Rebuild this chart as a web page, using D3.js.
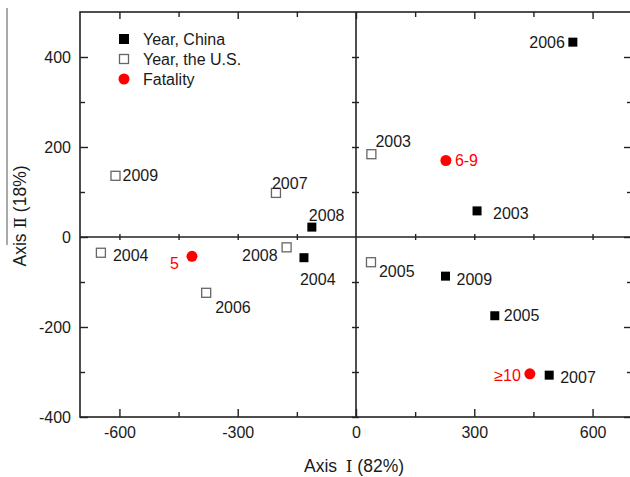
<!DOCTYPE html>
<html>
<head>
<meta charset="utf-8">
<script src="https://cdn.jsdelivr.net/npm/d3@7"></script>
<style>
body { margin: 0; background: #fff; }
text { font-family: "Liberation Sans", Arial, sans-serif; fill: #1a1a1a; }
</style>
</head>
<body>
<script>
var width = 630;
var height = 477;

// data
var chinaYears = ["2003", "2004", "2005", "2006", "2007", "2008", "2009"];
var chinaX = [307, -132, 352, 550, 490, -112, 227];
var chinaY = [58, -46, -175, 433, -307, 22, -87];

var usYears = ["2003", "2004", "2005", "2006", "2007", "2008", "2009"];
var usX = [39, -647, 38, -380, -203, -176, -610];
var usY = [184, -35, -56, -124, 98, -23, 136];

var fatalityLabels = ["5", "6-9", "\u226510"];
var fatalityX = [-416, 228, 441];
var fatalityY = [-43, 170, -304];

var xTicks = [-600, -300, 0, 300, 600];
var yTicks = [-400, -200, 0, 200, 400];

// label placement around each point (dx, dy, anchor)
var chinaPlace = {
    "2003": [16, 2, "start"], "2004": [-4, 22, "start"], "2005": [9, 0, "start"],
    "2006": [-8, 0, "end"], "2007": [11, 2, "start"], "2008": [-3, -12, "start"],
    "2009": [11, 3, "start"]
};
var usPlace = {
    "2003": [4, -13, "start"], "2004": [12, 3, "start"], "2005": [8, 9, "start"],
    "2006": [9, 15, "start"], "2007": [-4, -10, "start"], "2008": [-9, 8, "end"],
    "2009": [7, 0, "start"]
};
var fatalityPlace = [[-13, 7, "end"], [9, 0, "start"], [-9, 2, "end"]];

var x = d3.scaleLinear().domain([-700, 700]).range([80, 632]);
var y = d3.scaleLinear().domain([-400, 500]).range([417, 12]);

var svg = d3.select("body").append("svg")
    .attr("width", width)
    .attr("height", height);

var axisColor = "#222";
var plain = function (d) { return String(d); };   // hyphen minus like the original

// frame
svg.append("rect")
    .attr("x", x(-700)).attr("y", y(500))
    .attr("width", x(700) - x(-700)).attr("height", y(-400) - y(500))
    .attr("fill", "none").attr("stroke", axisColor).attr("stroke-width", 1.6);

// zero lines
svg.append("line")
    .attr("x1", x(-700)).attr("x2", x(700)).attr("y1", y(0)).attr("y2", y(0))
    .attr("stroke", axisColor).attr("stroke-width", 1.6);
svg.append("line")
    .attr("x1", x(0)).attr("x2", x(0)).attr("y1", y(500)).attr("y2", y(-400))
    .attr("stroke", axisColor).attr("stroke-width", 1.6);

function tickStyle(g) {
    g.select(".domain").remove();
    g.selectAll(".tick line").attr("stroke", axisColor).attr("stroke-width", 1.4);
    g.selectAll(".tick text").attr("font-size", 16).attr("fill", "#1a1a1a")
        .style("font-family", "'Liberation Sans', Arial, sans-serif");
}

var xMinor = d3.range(-600, 700, 150);
var yMinor = d3.range(-400, 500, 100);

// bottom axis: labels + inward ticks
svg.append("g").attr("transform", "translate(0," + y(-400) + ")")
    .call(d3.axisBottom(x).tickValues(xTicks).tickSize(0).tickPadding(10).tickFormat(plain))
    .call(tickStyle);
svg.append("g").attr("transform", "translate(0," + y(-400) + ")")
    .call(d3.axisTop(x).tickValues(xMinor).tickSize(6).tickFormat(""))
    .call(tickStyle)
    .selectAll(".tick line").attr("y2", function (d) { return xTicks.indexOf(d) >= 0 ? -8 : -5; });
// top axis ticks
svg.append("g").attr("transform", "translate(0," + y(500) + ")")
    .call(d3.axisBottom(x).tickValues(xMinor).tickFormat(""))
    .call(tickStyle)
    .selectAll(".tick line").attr("y2", function (d) { return xTicks.indexOf(d) >= 0 ? 7 : 5; });

// left axis
svg.append("g").attr("transform", "translate(" + x(-700) + ",0)")
    .call(d3.axisLeft(y).tickValues(yTicks).tickSize(0).tickPadding(9).tickFormat(plain))
    .call(tickStyle);
svg.append("g").attr("transform", "translate(" + x(-700) + ",0)")
    .call(d3.axisRight(y).tickValues(yMinor).tickFormat(""))
    .call(tickStyle)
    .selectAll(".tick line").attr("x2", function (d) { return yTicks.indexOf(d) >= 0 ? 8 : 5; });
// right axis ticks
svg.append("g").attr("transform", "translate(" + x(700) + ",0)")
    .call(d3.axisLeft(y).tickValues(yMinor).tickFormat(""))
    .call(tickStyle)
    .selectAll(".tick line").attr("x2", function (d) { return yTicks.indexOf(d) >= 0 ? -8 : -5; });

// ticks on the zero lines
svg.append("g").attr("transform", "translate(0," + y(0) + ")")
    .call(d3.axisBottom(x).tickValues(xMinor.filter(function (d) { return d != 0; })).tickFormat(""))
    .call(tickStyle)
    .selectAll(".tick line").attr("y1", -3).attr("y2", 3);
svg.append("g").attr("transform", "translate(" + x(0) + ",0)")
    .call(d3.axisLeft(y).tickValues(yMinor.filter(function (d) { return d != 0; })).tickFormat(""))
    .call(tickStyle)
    .selectAll(".tick line").attr("x1", 3).attr("x2", -4);

// axis titles
var xt = svg.append("text")
    .attr("x", 354).attr("y", 472)
    .attr("text-anchor", "middle")
    .attr("font-size", 17.5);
xt.append("tspan").text("Axis\u2002");
xt.append("tspan").style("font-family", "'DejaVu Serif', serif").attr("font-size", 17).text("\u2160");
xt.append("tspan").text(" (82%)");

var yt = svg.append("text")
    .attr("transform", "translate(26,216) rotate(-90)")
    .attr("text-anchor", "middle")
    .attr("font-size", 17.5);
yt.append("tspan").text("Axis ");
yt.append("tspan").style("font-family", "'DejaVu Serif', serif").attr("font-size", 17).text("\u2161");
yt.append("tspan").text(" (18%)");
svg.append("line")
    .attr("x1", 7).attr("x2", 7).attr("y1", 8).attr("y2", 245)
    .attr("stroke", "#555").attr("stroke-width", 1);

// points
var sq = 9;
function label(px, py, text, place, color) {
    svg.append("text")
        .attr("x", px + place[0]).attr("y", py + place[1])
        .attr("dy", "0.35em")
        .attr("text-anchor", place[2])
        .attr("font-size", 16)
        .style("fill", color)
        .text(text);
}

chinaYears.forEach(function (yr, i) {
    var px = x(chinaX[i]), py = y(chinaY[i]);
    svg.append("rect")
        .attr("x", px - sq / 2).attr("y", py - sq / 2)
        .attr("width", sq).attr("height", sq)
        .attr("fill", "#000");
    label(px, py, yr, chinaPlace[yr], "#1a1a1a");
});

usYears.forEach(function (yr, i) {
    var px = x(usX[i]), py = y(usY[i]);
    svg.append("rect")
        .attr("x", px - sq / 2).attr("y", py - sq / 2)
        .attr("width", sq).attr("height", sq)
        .attr("fill", "#fff").attr("stroke", "#666").attr("stroke-width", 1.3);
    label(px, py, yr, usPlace[yr], "#1a1a1a");
});

fatalityLabels.forEach(function (lb, i) {
    var px = x(fatalityX[i]), py = y(fatalityY[i]);
    svg.append("circle")
        .attr("cx", px).attr("cy", py).attr("r", 5.5)
        .attr("fill", "#ff0000");
    label(px, py, lb, fatalityPlace[i], "#ff0000");
});

// legend
var legend = svg.append("g").attr("transform", "translate(124,39)");
legend.append("rect").attr("x", -5).attr("y", -5).attr("width", 10).attr("height", 10).attr("fill", "#000");
legend.append("rect").attr("x", -4.5).attr("y", 15.5).attr("width", 9).attr("height", 9)
    .attr("fill", "#fff").attr("stroke", "#666").attr("stroke-width", 1.3);
legend.append("circle").attr("cx", 0).attr("cy", 40).attr("r", 5.5).attr("fill", "#ff0000");
["Year, China", "Year, the U.S.", "Fatality"].forEach(function (t, i) {
    legend.append("text")
        .attr("x", 19).attr("y", i * 20).attr("dy", "0.35em")
        .attr("font-size", 16)
        .text(t);
});
</script>
</body>
</html>
